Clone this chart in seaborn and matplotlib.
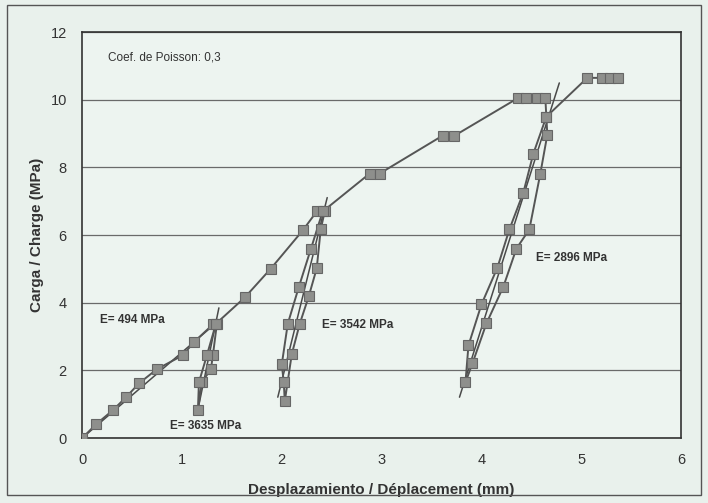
import numpy as np
import pandas as pd
import matplotlib
matplotlib.use("Agg")
import matplotlib.pyplot as plt
import seaborn as sns

# measured load path (loading, unload/reload cycles, loading again)
disp = [0, 0.14, 0.31, 0.44, 0.57, 0.75, 1.01, 1.12, 1.31, 1.35,
        1.31, 1.29, 1.20, 1.16,
        1.17, 1.25, 1.34,
        1.63, 1.89, 2.21, 2.35, 2.43,
        2.39, 2.35, 2.27, 2.18, 2.10, 2.03,
        2.02, 2.00, 2.06, 2.17, 2.29, 2.41,
        2.88, 2.98, 3.61, 3.73, 4.37, 4.45, 4.56, 4.64,
        4.65, 4.66, 4.59, 4.48, 4.35, 4.22, 4.05, 3.91, 3.84,
        3.87, 4.00, 4.16, 4.28, 4.42, 4.52, 4.65,
        5.06, 5.21, 5.29, 5.37]
load = [0, 0.41, 0.83, 1.21, 1.62, 2.04, 2.45, 2.84, 3.36, 3.38,
        2.45, 2.04, 1.65, 0.83,
        1.65, 2.45, 3.38,
        4.16, 5.01, 6.14, 6.70, 6.70,
        6.17, 5.02, 4.19, 3.38, 2.48, 1.09,
        1.65, 2.18, 3.38, 4.46, 5.58, 6.70,
        7.82, 7.82, 8.94, 8.94, 10.06, 10.06, 10.06, 10.06,
        9.50, 8.97, 7.82, 6.17, 5.60, 4.48, 3.39, 2.21, 1.65,
        2.74, 3.95, 5.04, 6.17, 7.26, 8.41, 9.50,
        10.65, 10.65, 10.65, 10.65]

# fitted modulus lines
fit_494_x = [0, 1.36]
fit_494_y = [0, 3.45]
fit_3635_x = [1.15, 1.37]
fit_3635_y = [0.70, 3.85]
fit_3542_x = [1.96, 2.455]
fit_3542_y = [1.21, 7.11]
fit_2896_x = [3.78, 4.78]
fit_2896_y = [1.21, 10.50]

labels = ["E= 494 MPa", "E= 3635 MPa", "E= 3542 MPa", "E= 2896 MPa"]
label_x = [0.18, 0.88, 2.40, 4.55]
label_y = [3.48, 0.35, 3.33, 5.31]

sns.set_style("white")
plt.rcParams['font.family'] = ['Liberation Sans', 'DejaVu Sans']

bg = "#e9f1ec"
fig = plt.figure(figsize=(7.08, 5.03), dpi=100, facecolor=bg)
ax = fig.add_axes([0.116, 0.129, 0.846, 0.807])
ax.set_facecolor("#edf4f0")

for fx, fy in [(fit_494_x, fit_494_y), (fit_3635_x, fit_3635_y),
               (fit_3542_x, fit_3542_y), (fit_2896_x, fit_2896_y)]:
    ax.plot(fx, fy, color="#4a4a4a", lw=1.1, zorder=2)

df = pd.DataFrame({"disp": disp, "load": load})
sns.lineplot(data=df, x="disp", y="load", sort=False, estimator=None, ax=ax,
             color="#555555", lw=1.4, marker="s", markersize=6.5,
             markerfacecolor="#8e8f8c", markeredgecolor="#666666",
             markeredgewidth=0.8, zorder=3)

ax.set_xlim(0, 6)
ax.set_ylim(0, 12)
ax.set_xticks(range(0, 7))
ax.set_yticks(range(0, 13, 2))
ax.yaxis.grid(True, color="#6a6a6a", lw=0.9)
for s in ax.spines.values():
    s.set_color("#333333")
    s.set_linewidth(1.2)
ax.tick_params(axis="both", labelsize=10.5, colors="#333333", length=3, pad=8)

ax.set_xlabel("Desplazamiento / Déplacement (mm)", fontsize=11, fontweight="bold",
              color="#333333", labelpad=11)
ax.set_ylabel("Carga / Charge (MPa)", fontsize=11, fontweight="bold",
              color="#333333", labelpad=5)

ax.text(0.26, 11.24, "Coef. de Poisson: 0,3", fontsize=8.5, color="#333333",
        va="center")
for t, tx, ty in zip(labels, label_x, label_y):
    ax.text(tx, ty, t, fontsize=8.5, fontweight="bold", color="#333333",
            va="center")

# outer frame of the scanned figure
fig.patches.append(plt.Rectangle((0.01, 0.015), 0.98, 0.975, transform=fig.transFigure,
                                 fill=False, edgecolor="#555555", lw=1.0))

fig.savefig("out.png", dpi=100, facecolor=bg)
